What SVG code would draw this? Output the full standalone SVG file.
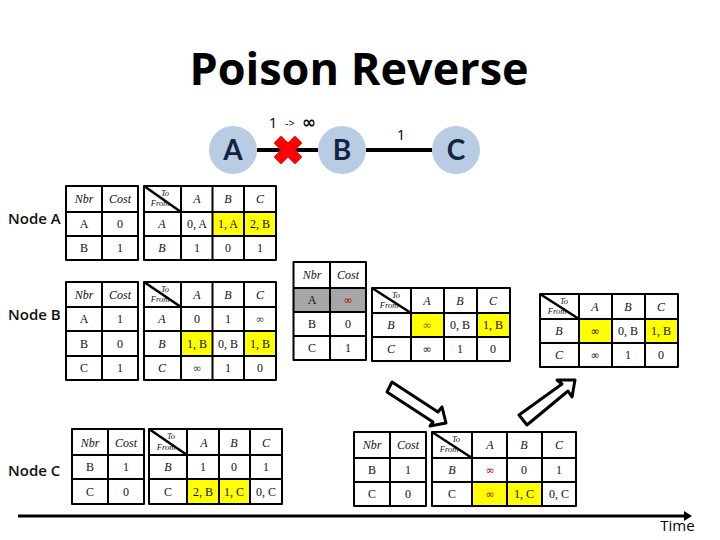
<svg xmlns="http://www.w3.org/2000/svg" width="720" height="540" viewBox="0 0 720 540">
<style>
.bg{fill:#fff}
.g{fill:none;stroke:#000;stroke-width:2;stroke-linejoin:round}
.d{fill:none;stroke:#000;stroke-width:2.600}
.y{fill:#ff0}
.gr{fill:#a6a6a6}
text{font-family:"Liberation Serif",serif;font-size:12px;text-anchor:middle;fill:#111}
.h{font-style:italic;font-size:12px}
.s{font-style:italic;font-size:8.500px}
.inf{font-family:"DejaVu Sans",sans-serif;font-size:11px}
.red{fill:#c00000}
.grn{fill:#1e6b1e}
.n{font-family:Lato,sans-serif;font-weight:700;font-size:28px;fill:#14233f}
.l{font-family:"Open Sans",sans-serif;font-weight:600;font-size:15px;fill:#111;text-anchor:start}
.c{fill:#b8cce4}
.o{font-family:"Open Sans",sans-serif;font-size:15px;fill:#000}
</style>
<rect class="bg" width="720" height="540"/>
<text x="359" y="85" style="font-family:'Open Sans',sans-serif;font-weight:700;font-size:45px;fill:#000">Poison Reverse</text>

<g id="connectors">
<path d="M257 150H318M366 150H432" fill="none" stroke="#000" stroke-width="4"/>
<path d="M18 516H686" fill="none" stroke="#000" stroke-width="3"/>
<path d="M684 511L692 516L684 521Z" fill="#000"/>
<path d="M392 382L387 392L433 422L430 426L446 423L442 407L438 412Z" fill="#fff" stroke="#000" stroke-width="3" stroke-linejoin="round"/>
<path d="M519 415L527 425L568 391L572 397L575 380L557 380L562 384Z" fill="#fff" stroke="#000" stroke-width="3" stroke-linejoin="round"/>
</g>

<g id="node-a"><circle class="c" cx="233" cy="150" r="24"/><text class="n" x="233" y="160">A</text></g>
<g id="node-b"><circle class="c" cx="342" cy="150" r="24"/><text class="n" x="342" y="160">B</text></g>
<g id="node-c"><circle class="c" cx="456" cy="150" r="24"/><text class="n" x="456" y="160">C</text></g>
<g id="fail"><path d="M281 137L288 144L295 137L301 143L294 150L301 157L295 163L288 156L281 163L275 157L282 150L275 143Z" fill="#f00" stroke="#f00" stroke-width="2" stroke-linejoin="round"/></g>
<g id="link-labels">
<text class="o" x="273" y="128">1</text>
<text class="o" x="290" y="127" style="font-size:11px">-&gt;</text>
<text x="309" y="128" style="font-family:'DejaVu Sans',sans-serif;font-weight:700;font-size:17px;fill:#000">∞</text>
<text class="o" x="401" y="140">1</text>
</g>

<text class="l" x="8" y="224">Node A</text>
<text class="l" x="8" y="320">Node B</text>
<text class="l" x="8" y="476">Node C</text>

<g id="table-a">
<path class="y" d="M213 212h31v24h-31zM244 212h32v24h-32z"/>
<path class="g" d="M66 186H138V260H66ZM102 186V260M66 212H138M66 236H138"/>
<path class="g" d="M144 186H276V260H144ZM181 186V260M212.500 186V260M244 186V260M144 212H276M144 236H276"/><path class="d" d="M144 186L181 212"/>
<text class="h" x="84" y="203">Nbr</text><text class="h" x="120" y="203">Cost</text>
<text class="s" x="165" y="196">To</text><text class="s" x="160" y="206">From</text>
<text class="h" x="197" y="203">A</text><text class="h" x="228" y="203">B</text><text class="h" x="260" y="203">C</text>
<text x="84" y="228">A</text><text x="120" y="228">0</text><text class="h" x="162" y="228">A</text><text x="197" y="228">0, A</text><text x="228" y="228">1, A</text><text x="260" y="228">2, B</text>
<text x="84" y="252">B</text><text x="120" y="252">1</text><text class="h" x="162" y="252">B</text><text x="197" y="252">1</text><text x="228" y="252">0</text><text x="260" y="252">1</text>
</g>

<g id="table-b">
<path class="y" d="M182 332h30v24h-30zM245 332h30v24h-30z"/>
<path class="g" d="M66 282H138V380H66ZM102 282V380M66 307H138M66 331H138M66 356H138"/>
<path class="g" d="M144 282H276V380H144ZM181 282V380M212.500 282V380M244 282V380M144 307H276M144 331H276M144 356H276"/><path class="d" d="M144 282L181 307"/>
<text class="h" x="84" y="299">Nbr</text><text class="h" x="120" y="299">Cost</text>
<text class="s" x="165" y="292">To</text><text class="s" x="160" y="302">From</text>
<text class="h" x="197" y="299">A</text><text class="h" x="228" y="299">B</text><text class="h" x="260" y="299">C</text>
<text x="84" y="323">A</text><text x="120" y="323">1</text><text class="h" x="162" y="323">A</text><text x="197" y="323">0</text><text x="228" y="323">1</text><text class="inf grn" x="260" y="323">∞</text>
<text x="84" y="348">B</text><text x="120" y="348">0</text><text class="h" x="162" y="348">B</text><text x="197" y="348">1, B</text><text x="228" y="348">0, B</text><text x="260" y="348">1, B</text>
<text x="84" y="372">C</text><text x="120" y="372">1</text><text class="h" x="162" y="372">C</text><text class="inf grn" x="197" y="372">∞</text><text x="228" y="372">1</text><text x="260" y="372">0</text>
</g>

<g id="table-c">
<path class="y" d="M188 480h30v24h-30zM220 480h29v24h-29z"/>
<path class="g" d="M72 429H144V504H72ZM108 429V504M72 455H144M72 479H144"/>
<path class="g" d="M149 429H282V504H149ZM187 429V504M219 429V504M250 429V504M149 455H282M149 479H282"/><path class="d" d="M149 429L187 455"/>
<text class="h" x="90" y="447">Nbr</text><text class="h" x="126" y="447">Cost</text>
<text class="s" x="171" y="439">To</text><text class="s" x="166" y="450">From</text>
<text class="h" x="204" y="447">A</text><text class="h" x="234" y="447">B</text><text class="h" x="266" y="447">C</text>
<text x="90" y="471">B</text><text x="126" y="471">1</text><text class="h" x="168" y="471">B</text><text x="203" y="471">1</text><text x="234" y="471">0</text><text x="266" y="471">1</text>
<text x="90" y="496">C</text><text x="126" y="496">0</text><text x="168" y="496">C</text><text x="203" y="496">2, B</text><text x="234" y="496">1, C</text><text x="266" y="496">0, C</text>
</g>

<g id="table-mid">
<path class="gr" d="M293.500 288H366V312H293.500Z"/>
<path class="y" d="M412 314h32v23h-32zM478 314h31v23h-31z"/>
<path class="g" d="M293.500 262H366V360H293.500ZM330 262V360M293.500 288H366M293.500 312H366M293.500 336H366"/>
<path class="g" d="M372 288H510V361H372ZM411 288V361M444 288V361M477 288V361M372 313H510M372 337H510"/><path class="d" d="M372 288L411 313"/>
<text class="h" x="312" y="279">Nbr</text><text class="h" x="348" y="279">Cost</text>
<text x="312" y="304">A</text><text class="inf red" x="348" y="304">∞</text>
<text x="312" y="328">B</text><text x="348" y="328">0</text>
<text x="312" y="352">C</text><text x="348" y="352">1</text>
<text class="s" x="396" y="298">To</text><text class="s" x="389" y="308">From</text>
<text class="h" x="427" y="305">A</text><text class="h" x="460" y="305">B</text><text class="h" x="493" y="305">C</text>
<text class="h" x="391" y="329">B</text><text class="inf" style="fill:#c05000" x="427" y="329">∞</text><text x="460" y="329">0, B</text><text x="493" y="329">1, B</text>
<text class="h" x="391" y="353">C</text><text class="inf" x="427" y="353">∞</text><text x="460" y="353">1</text><text x="493" y="353">0</text>
</g>

<g id="table-right">
<path class="y" d="M580 320h32v23h-32zM646 320h31v23h-31z"/>
<path class="g" d="M540 294H678V367H540ZM579 294V367M612 294V367M645 294V367M540 319H678M540 343H678"/><path class="d" d="M540 294L579 319"/>
<text class="s" x="564" y="304">To</text><text class="s" x="557" y="314">From</text>
<text class="h" x="595" y="311">A</text><text class="h" x="628" y="311">B</text><text class="h" x="661" y="311">C</text>
<text class="h" x="559" y="335">B</text><text class="inf" x="595" y="335">∞</text><text x="628" y="335">0, B</text><text x="661" y="335">1, B</text>
<text class="h" x="559" y="359">C</text><text class="inf" x="595" y="359">∞</text><text x="628" y="359">1</text><text x="661" y="359">0</text>
</g>

<g id="table-bottom">
<path class="y" d="M473 483h34v23h-34zM508 483h33v23h-33z"/>
<path class="g" d="M354 432H426V506H354ZM390 432V506M354 458H426M354 482H426"/>
<path class="g" d="M432 432H576V506H432ZM472 432V506M507 432V506M542 432V506M432 458H576M432 482H576"/><path class="d" d="M432 432L472 458"/>
<text class="h" x="372" y="449">Nbr</text><text class="h" x="408" y="449">Cost</text>
<text x="372" y="474">B</text><text x="408" y="474">1</text>
<text x="372" y="498">C</text><text x="408" y="498">0</text>
<text class="s" x="456" y="442">To</text><text class="s" x="449" y="452">From</text>
<text class="h" x="490" y="449">A</text><text class="h" x="524" y="449">B</text><text class="h" x="559" y="449">C</text>
<text class="h" x="452" y="474">B</text><text class="inf red" x="490" y="474">∞</text><text x="524" y="474">0</text><text x="559" y="474">1</text>
<text x="452" y="498">C</text><text class="inf red" x="490" y="498">∞</text><text x="524" y="498">1, C</text><text x="559" y="498">0, C</text>
</g>

<text x="677.500" y="531" style="font-family:'Open Sans',sans-serif;font-size:15px;fill:#000">Time</text>
</svg>
